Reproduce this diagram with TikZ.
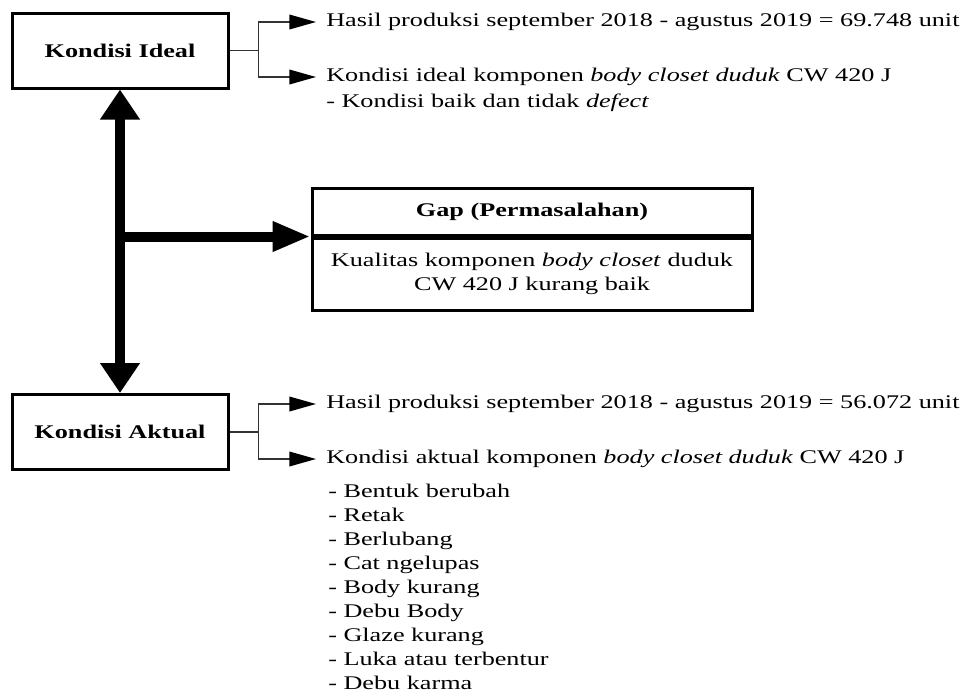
\documentclass[tikz,border=0pt]{standalone}
\usepackage{fontspec}
\usepackage{graphicx}
\setmainfont{Liberation Serif}
\usetikzlibrary{arrows.meta}
\newcommand{\hs}[1]{\scalebox{1.355}[1]{#1}}
\begin{document}
\begin{tikzpicture}[x=0.75pt,y=-0.75pt,
  every node/.style={font=\fontsize{14.5}{18}\selectfont},
  box/.style={draw, line width=2.25pt, minimum width=162pt, minimum height=56.25pt, inner sep=0pt},
  gapbox/.style={draw, line width=2.25pt, minimum width=330pt, inner sep=0pt},
  txt/.style={anchor=west, inner xsep=7.5pt, inner ysep=0pt},
  thinline/.style={line width=1.1pt, draw=black!80},
  thinarr/.style={thinline, -{Triangle[length=20pt,width=11pt,color=black]}},
  bigv/.style={line width=7.5pt, {Triangle[length=22.5pt,width=28.5pt]}-{Triangle[length=22.5pt,width=28.5pt]}},
  bigh/.style={line width=7.5pt, -{Triangle[length=28.5pt,width=21pt]}}]
\useasboundingbox (0,0) rectangle (963,697);

% boxes
\node[box] (ideal) at (120,50.5) {\hs{\bfseries Kondisi Ideal}};
\node[box] (aktual) at (120,432) {\hs{\bfseries Kondisi Aktual}};
\node[gapbox, minimum height=35.25pt] (gaptitle) at (532,211.5) {\hs{\bfseries Gap (Permasalahan)}};
\node[gapbox, minimum height=54pt, anchor=north] (gapbody) at (gaptitle.south)
  {\hs{\begin{tabular}{@{}c@{}}Kualitas komponen \textit{body closet} duduk\\CW 420 J kurang baik\end{tabular}}};

% texts
\node[txt] (t1) at (316,22) {\hs{Hasil produksi september 2018 - agustus 2019 = 69.748 unit}};
\node[txt] (t2) at (316,77) {\hs{Kondisi ideal komponen \textit{body closet duduk} CW 420 J}};
\node[txt, anchor=base west] (t2b) at (316,107) {\hs{- Kondisi baik dan tidak \textit{defect}}};
\node[txt] (t3) at (316,404) {\hs{Hasil produksi september 2018 - agustus 2019 = 56.072 unit}};
\node[txt] (t4) at (316,459) {\hs{Kondisi aktual komponen \textit{body closet duduk} CW 420 J}};
\node[txt, anchor=base west] (t4b) at (318,497) {\hs{\begin{tabular}[t]{@{}l@{}}- Bentuk berubah\\- Retak\\- Berlubang\\- Cat ngelupas\\- Body kurang\\- Debu Body\\- Glaze kurang\\- Luka atau terbentur\\- Debu karma\end{tabular}}};

% branches
\coordinate (b1) at ([xshift=21.75pt]ideal.east);
\draw[thinline] (ideal.east) -- (b1);
\draw[thinarr] (b1) |- (t1.west);
\draw[thinarr] (b1) |- (t2.west);
\coordinate (b2) at ([xshift=21.75pt]aktual.east);
\draw[thinline] (aktual.east) -- (b2);
\draw[thinarr] (b2) |- (t3.west);
\draw[thinarr] (b2) |- (t4.west);

% big arrows
\draw[bigv] (ideal.south) -- (aktual.north);
\coordinate (hj) at (ideal.south |- gaptitle.south);
\draw[bigh] (hj) -- (gaptitle.south west);
\end{tikzpicture}
\end{document}
